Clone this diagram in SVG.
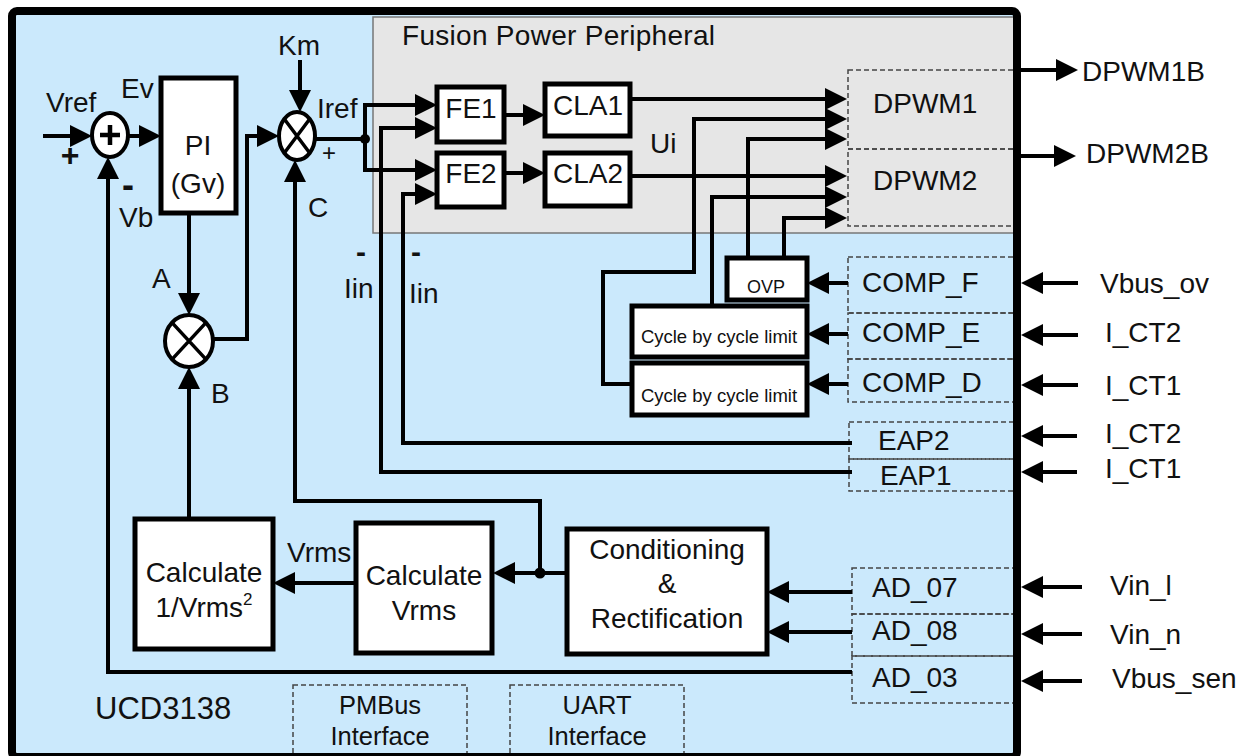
<svg xmlns="http://www.w3.org/2000/svg" width="1248" height="756" viewBox="0 0 1248 756">
<style>
.box{fill:#fff;stroke:#000;stroke-width:5}
.dash{fill:none;stroke:#444;stroke-width:1.5;stroke-dasharray:5 3}
.w{fill:none;stroke:#000;stroke-width:4}
.a{marker-end:url(#ah)}
.op{fill:#fff;stroke:#000;stroke-width:4}
.x{stroke:#000;stroke-width:3.5;fill:none}
text{font-family:"Liberation Sans",Arial,sans-serif;font-size:28px;fill:#111}
.m{text-anchor:middle}
.s{font-size:18px}
.cb{font-size:18.5px}
.i{font-size:25.5px}
.u{font-size:31px}
.sup{font-size:17px}
.pb{font-size:32px;font-weight:bold}
.p2{font-size:24px}
.mb{font-size:36px;font-weight:bold}
.mi{font-size:30px;font-weight:bold}
</style>
<defs>
<marker id="ah" markerUnits="userSpaceOnUse" markerWidth="22" markerHeight="22" refX="12" refY="11" orient="auto" overflow="visible"><path d="M0,0 L22,11 L0,22 Z" fill="#000"/></marker>
</defs>
<rect width="1248" height="756" fill="#fff"/>
<rect id="ucd-bg" x="12" y="11" width="1005" height="746" fill="#cbe9fc"/>
<g id="fusion">
<rect x="373" y="17" width="642" height="216" fill="#e6e6e6" stroke="#777" stroke-width="1.5"/>
<text x="402" y="45" textLength="313">Fusion Power Peripheral</text>
</g>
<g id="dashed">
<g id="dpwm1"><rect class="dash" x="848" y="70" width="167" height="79"/><text x="873" y="113">DPWM1</text></g>
<g id="dpwm2"><rect class="dash" x="848" y="149" width="167" height="77"/><text x="873" y="190">DPWM2</text></g>
<g id="compf"><rect class="dash" x="848" y="257" width="167" height="56"/><text x="862" y="292">COMP_F</text></g>
<g id="compe"><rect class="dash" x="848" y="313" width="167" height="46"/><text x="862" y="342">COMP_E</text></g>
<g id="compd"><rect class="dash" x="848" y="359" width="167" height="43"/><text x="862" y="392">COMP_D</text></g>
<g id="eap2"><rect class="dash" x="849" y="422" width="166" height="37"/><text x="878" y="450">EAP2</text></g>
<g id="eap1"><rect class="dash" x="849" y="459" width="166" height="32"/><text x="880" y="485">EAP1</text></g>
<g id="ad07"><rect class="dash" x="852" y="568" width="163" height="46"/><text x="872" y="597">AD_07</text></g>
<g id="ad08"><rect class="dash" x="852" y="614" width="163" height="42"/><text x="872" y="640">AD_08</text></g>
<g id="ad03"><rect class="dash" x="852" y="656" width="163" height="47"/><text x="872" y="687">AD_03</text></g>
<g id="pmbus"><rect class="dash" x="293" y="685" width="174" height="80"/><text class="m i" x="380" y="714">PMBus</text><text class="m i" x="380" y="745">Interface</text></g>
<g id="uart"><rect class="dash" x="510" y="685" width="174" height="80"/><text class="m i" x="597" y="714">UART</text><text class="m i" x="597" y="745">Interface</text></g>
</g>
<g id="connectors">
<path class="w a" d="M43,136 H82"/>
<path class="w a" d="M128,136 H151"/>
<path class="w a" d="M852,672 H108 V167"/>
<path class="w a" d="M189,213 V305"/>
<path class="w a" d="M213,339 H247 V136 H269"/>
<path class="w a" d="M300,60 V102"/>
<path class="w a" d="M540,573 V501 H295 V170"/>
<path class="w" d="M315,139 H365"/>
<path class="w a" d="M365,139 V105 H427"/>
<path class="w a" d="M365,139 V170 H427"/>
<path class="w a" d="M852,472 H381 V128 H427"/>
<path class="w a" d="M852,443 H403 V194 H427"/>
<path class="w a" d="M504,115 H535"/>
<path class="w a" d="M504,173 H535"/>
<path class="w a" d="M630,99 H837"/>
<path class="w a" d="M630,176 H837"/>
<path class="w a" d="M632,384 H603 V272 H694 V119 H837"/>
<path class="w a" d="M748,258 V139 H837"/>
<path class="w a" d="M712,306 V197 H837"/>
<path class="w a" d="M784,258 V218 H837"/>
<path class="w a" d="M848,283 H817"/>
<path class="w a" d="M848,334 H817"/>
<path class="w a" d="M848,384 H817"/>
<path class="w a" d="M567,573 H503"/>
<path class="w a" d="M356,583 H283"/>
<path class="w a" d="M189,519 V377"/>
<path class="w a" d="M852,592 H777"/>
<path class="w a" d="M852,632 H777"/>
<path class="w a" d="M1021,70 H1068"/>
<path class="w a" d="M1021,156 H1066"/>
<path class="w a" d="M1078,283 H1031"/>
<path class="w a" d="M1078,335 H1031"/>
<path class="w a" d="M1078,385 H1031"/>
<path class="w a" d="M1077,436 H1031"/>
<path class="w a" d="M1077,472 H1031"/>
<path class="w a" d="M1082,587 H1031"/>
<path class="w a" d="M1082,634 H1031"/>
<path class="w a" d="M1082,681 H1031"/>
<circle cx="365" cy="139" r="5"/>
<circle cx="540" cy="573" r="5.5"/>
</g>
<g id="sum">
<ellipse class="op" cx="110" cy="135" rx="18" ry="22"/>
<path d="M100,135 H120 M110,125 V145" stroke="#000" stroke-width="4.5"/>
</g>
<g id="pi"><rect class="box" x="161" y="78" width="75" height="135"/><text class="m" x="198" y="155">PI</text><text class="m" x="198" y="193">(Gv)</text></g>
<g id="mult1"><ellipse class="op" cx="297" cy="136" rx="18" ry="24"/><path class="x" d="M284.3,119 L309.7,153 M309.7,119 L284.3,153"/></g>
<g id="mult2"><ellipse class="op" cx="189" cy="341" rx="24" ry="26"/><path class="x" d="M172,322.6 L206,359.4 M206,322.6 L172,359.4"/></g>
<g id="fe1"><rect class="box" x="437" y="87" width="67" height="55"/><text class="m" x="471" y="118">FE1</text></g>
<g id="fe2"><rect class="box" x="437" y="153" width="67" height="54"/><text class="m" x="471" y="183">FE2</text></g>
<g id="cla1"><rect class="box" x="545" y="84" width="85" height="52"/><text class="m" x="588" y="115">CLA1</text></g>
<g id="cla2"><rect class="box" x="545" y="153" width="85" height="53"/><text class="m" x="588" y="183">CLA2</text></g>
<g id="ovp"><rect class="box" x="727" y="258" width="80" height="42" stroke-width="4"/><text class="m s" x="766" y="293">OVP</text></g>
<g id="cbc1"><rect class="box" x="632" y="306" width="175" height="51"/><text class="m cb" x="719" y="343">Cycle by cycle limit</text></g>
<g id="cbc2"><rect class="box" x="632" y="363" width="175" height="52"/><text class="m cb" x="719" y="402">Cycle by cycle limit</text></g>
<g id="cond"><rect class="box" x="567" y="529" width="200" height="125"/><text class="m" x="667" y="559">Conditioning</text><text class="m" x="667" y="593">&amp;</text><text class="m" x="667" y="628">Rectification</text></g>
<g id="calcvrms"><rect class="box" x="356" y="523" width="136" height="130"/><text class="m" x="424" y="585">Calculate</text><text class="m" x="424" y="620">Vrms</text></g>
<g id="calcinv"><rect class="box" x="135" y="519" width="138" height="130"/><text class="m" x="204" y="582">Calculate</text><text class="m" x="204" y="617">1/Vrms<tspan class="sup" dy="-12">2</tspan></text></g>
<g id="labels">
<text x="46" y="112">Vref</text>
<text class="m pb" x="70" y="166">+</text>
<text x="121" y="98">Ev</text>
<text class="m mb" x="128" y="197">-</text>
<text x="119" y="227">Vb</text>
<text x="278" y="55">Km</text>
<text x="317" y="118">Iref</text>
<text class="m p2" x="329" y="161">+</text>
<text x="308" y="217">C</text>
<text x="152" y="288">A</text>
<text x="211" y="403">B</text>
<text class="m mi" x="361" y="262">-</text>
<text class="m mi" x="416" y="262">-</text>
<text x="344" y="298">Iin</text>
<text x="409" y="303">Iin</text>
<text x="650" y="153">Ui</text>
<text x="287" y="562">Vrms</text>
<text class="u" x="95" y="719">UCD3138</text>
<text x="1082" y="81">DPWM1B</text>
<text x="1086" y="163">DPWM2B</text>
<text x="1100" y="293">Vbus_ov</text>
<text x="1105" y="342">I_CT2</text>
<text x="1105" y="395">I_CT1</text>
<text x="1105" y="443">I_CT2</text>
<text x="1105" y="478">I_CT1</text>
<text x="1110" y="595">Vin_l</text>
<text x="1110" y="644">Vin_n</text>
<text x="1112" y="688">Vbus_sen</text>
</g>
<rect id="ucd-border" x="12" y="11" width="1005" height="746" rx="5" fill="none" stroke="#000" stroke-width="8"/>
</svg>
